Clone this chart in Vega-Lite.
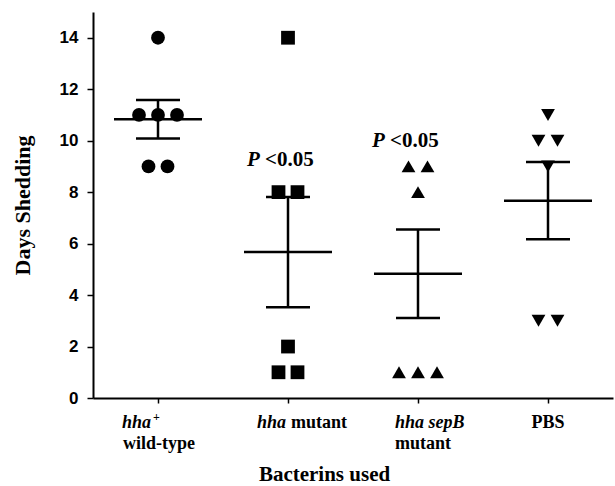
{
  "$schema": "https://vega.github.io/schema/vega-lite/v6.json",
  "width": 520,
  "height": 386,
  "autosize": {"type": "none"},
  "padding": {"left": 93, "top": 12, "right": 2, "bottom": 88},
  "background": "white",
  "config": {"view": {"stroke": null}},
  "datasets": {
    "points": [
      {"group": "hha+", "days": 14},
      {"group": "hha+", "days": 11},
      {"group": "hha+", "days": 11},
      {"group": "hha+", "days": 11},
      {"group": "hha+", "days": 9},
      {"group": "hha+", "days": 9},
      {"group": "hha mutant", "days": 14},
      {"group": "hha mutant", "days": 8},
      {"group": "hha mutant", "days": 8},
      {"group": "hha mutant", "days": 2},
      {"group": "hha mutant", "days": 1},
      {"group": "hha mutant", "days": 1},
      {"group": "hha sepB mutant", "days": 9},
      {"group": "hha sepB mutant", "days": 9},
      {"group": "hha sepB mutant", "days": 8},
      {"group": "hha sepB mutant", "days": 1},
      {"group": "hha sepB mutant", "days": 1},
      {"group": "hha sepB mutant", "days": 1},
      {"group": "PBS", "days": 11},
      {"group": "PBS", "days": 10},
      {"group": "PBS", "days": 10},
      {"group": "PBS", "days": 9},
      {"group": "PBS", "days": 3},
      {"group": "PBS", "days": 3}
    ],
    "summary": [
      {"group": "hha+", "mean": 10.83, "lower": 10.08, "upper": 11.58},
      {"group": "hha mutant", "mean": 5.67, "lower": 3.53, "upper": 7.81},
      {"group": "hha sepB mutant", "mean": 4.83, "lower": 3.11, "upper": 6.55},
      {"group": "PBS", "mean": 7.67, "lower": 6.17, "upper": 9.17}
    ],
    "annot": [
      {"group": "hha mutant", "level": 9.0},
      {"group": "hha sepB mutant", "level": 9.75}
    ],
    "labels": [
      {"group": "hha+", "piece": "a", "text": "hha"},
      {"group": "hha+", "piece": "sup", "text": "+"},
      {"group": "hha+", "piece": "b", "text": "wild-type"},
      {"group": "hha mutant", "piece": "c", "text": "hha"},
      {"group": "hha mutant", "piece": "d", "text": "mutant"},
      {"group": "hha sepB mutant", "piece": "e", "text": "hha sepB"},
      {"group": "hha sepB mutant", "piece": "f", "text": "mutant"},
      {"group": "PBS", "piece": "g", "text": "PBS"}
    ]
  },
  "encoding": {
    "x": {
      "field": "group",
      "type": "nominal",
      "sort": ["hha+", "hha mutant", "hha sepB mutant", "PBS"],
      "scale": {"type": "point", "padding": 0.5},
      "axis": {
        "labels": false,
        "title": "Bacterins used",
        "titleFont": "Liberation Serif",
        "titleFontWeight": "bold",
        "titleFontSize": 21,
        "titleColor": "black",
        "titlePadding": 60,
        "titleX": 231,
        "domainColor": "black",
        "domainWidth": 2,
        "tickColor": "black",
        "tickWidth": 1.5,
        "tickSize": 5
      }
    }
  },
  "layer": [
    {
      "data": {"name": "points"},
      "transform": [
        {"window": [{"op": "row_number", "as": "rn"}, {"op": "count", "as": "n"}], "groupby": ["group", "days"], "frame": [null, null]},
        {"calculate": "datum.rn - (datum.n + 1) / 2", "as": "slot"}
      ],
      "mark": {"type": "point", "filled": true, "opacity": 1, "color": "black", "size": 190},
      "encoding": {
        "y": {
          "field": "days",
          "type": "quantitative",
          "scale": {"domain": [0, 15], "nice": false},
          "axis": {
            "values": [0, 2, 4, 6, 8, 10, 12, 14],
            "grid": false,
            "title": "Days Shedding",
            "titleFont": "Liberation Serif",
            "titleFontWeight": "bold",
            "titleFontSize": 22,
            "titleColor": "black",
            "titlePadding": 25,
            "labelFont": "Liberation Sans",
            "labelFontWeight": "bold",
            "labelFontSize": 17,
            "labelColor": "black",
            "labelPadding": 9,
            "domainColor": "black",
            "domainWidth": 2,
            "tickColor": "black",
            "tickWidth": 1.5,
            "tickSize": 6
          }
        },
        "xOffset": {"field": "slot", "type": "quantitative", "scale": {"domain": [-1, 1], "range": [-19, 19]}},
        "shape": {
          "field": "group",
          "type": "nominal",
          "scale": {"domain": ["hha+", "hha mutant", "hha sepB mutant", "PBS"], "range": ["circle", "square", "triangle-up", "triangle-down"]},
          "legend": null
        }
      }
    },
    {
      "data": {"name": "summary"},
      "mark": {"type": "rule", "color": "black", "strokeWidth": 2.5},
      "encoding": {"y": {"field": "lower", "type": "quantitative"}, "y2": {"field": "upper"}}
    },
    {
      "data": {"name": "summary"},
      "mark": {"type": "tick", "color": "black", "opacity": 1, "size": 88, "thickness": 2.5},
      "encoding": {"y": {"field": "mean", "type": "quantitative"}}
    },
    {
      "data": {"name": "summary"},
      "mark": {"type": "tick", "color": "black", "opacity": 1, "size": 44, "thickness": 2.5},
      "encoding": {"y": {"field": "lower", "type": "quantitative"}}
    },
    {
      "data": {"name": "summary"},
      "mark": {"type": "tick", "color": "black", "opacity": 1, "size": 44, "thickness": 2.5},
      "encoding": {"y": {"field": "upper", "type": "quantitative"}}
    },
    {
      "data": {"name": "annot"},
      "mark": {"type": "text", "text": "P", "font": "Liberation Serif", "fontWeight": "bold", "fontStyle": "italic", "fontSize": 21, "align": "left", "baseline": "alphabetic", "color": "black", "dx": {"expr": "datum.group === 'hha mutant' ? -41 : -46"}},
      "encoding": {"y": {"field": "level", "type": "quantitative"}}
    },
    {
      "data": {"name": "annot"},
      "mark": {"type": "text", "text": "<0.05", "font": "Liberation Serif", "fontWeight": "bold", "fontSize": 21, "align": "left", "baseline": "alphabetic", "color": "black", "dx": {"expr": "datum.group === 'hha mutant' ? -23 : -28"}},
      "encoding": {"y": {"field": "level", "type": "quantitative"}}
    },
    {
      "data": {"name": "labels"},
      "transform": [{"filter": "datum.piece === 'a' || datum.piece === 'c' || datum.piece === 'e'"}],
      "mark": {"type": "text", "font": "Liberation Serif", "fontWeight": "bold", "fontStyle": "italic", "fontSize": 18, "align": "left", "baseline": "alphabetic", "color": "black", "dx": {"expr": "datum.piece === 'a' ? -36 : datum.piece === 'c' ? -31 : -23"}},
      "encoding": {"y": {"datum": -1.18, "type": "quantitative"}, "text": {"field": "text"}}
    },
    {
      "data": {"name": "labels"},
      "transform": [{"filter": "datum.piece === 'sup'"}],
      "mark": {"type": "text", "font": "Liberation Serif", "fontWeight": "bold", "fontSize": 12, "align": "left", "baseline": "alphabetic", "color": "black", "dx": -5},
      "encoding": {"y": {"datum": -0.9, "type": "quantitative"}, "text": {"field": "text"}}
    },
    {
      "data": {"name": "labels"},
      "transform": [{"filter": "datum.piece === 'd'"}],
      "mark": {"type": "text", "font": "Liberation Serif", "fontWeight": "bold", "fontSize": 18, "align": "left", "baseline": "alphabetic", "color": "black", "dx": 3},
      "encoding": {"y": {"datum": -1.18, "type": "quantitative"}, "text": {"field": "text"}}
    },
    {
      "data": {"name": "labels"},
      "transform": [{"filter": "datum.piece === 'g'"}],
      "mark": {"type": "text", "font": "Liberation Serif", "fontWeight": "bold", "fontSize": 18, "align": "center", "baseline": "alphabetic", "color": "black"},
      "encoding": {"y": {"datum": -1.18, "type": "quantitative"}, "text": {"field": "text"}}
    },
    {
      "data": {"name": "labels"},
      "transform": [{"filter": "datum.piece === 'b' || datum.piece === 'f'"}],
      "mark": {"type": "text", "font": "Liberation Serif", "fontWeight": "bold", "fontSize": 18, "align": "left", "baseline": "alphabetic", "color": "black", "dx": {"expr": "datum.piece === 'b' ? -35 : -23"}},
      "encoding": {"y": {"datum": -1.98, "type": "quantitative"}, "text": {"field": "text"}}
    }
  ]
}
